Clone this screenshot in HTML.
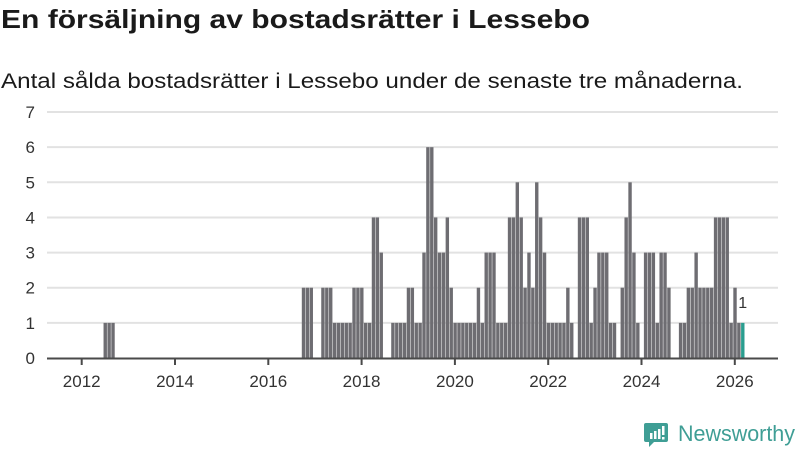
<!DOCTYPE html>
<html><head><meta charset="utf-8">
<style>
html,body{margin:0;padding:0;background:#fff;}
body{width:800px;height:450px;overflow:hidden;font-family:"Liberation Sans",sans-serif;color:#1a1a1a;}
svg text{font-family:"Liberation Sans",sans-serif;}
</style></head>
<body>
<svg id="chart" width="800" height="450">
  <text x="1" y="28" font-size="26" font-weight="bold" fill="#1a1a1a" textLength="589" lengthAdjust="spacingAndGlyphs">En försäljning av bostadsrätter i Lessebo</text>
  <text x="1" y="88" font-size="21" fill="#1a1a1a" textLength="742" lengthAdjust="spacingAndGlyphs">Antal sålda bostadsrätter i Lessebo under de senaste tre månaderna.</text>
  <g id="grid"></g>
  <g id="bars"></g>
  <g id="axes"></g>
  <g>
    <path d="M646 423 h20 a2 2 0 0 1 2 2 v15 a2 2 0 0 1 -2 2 h-12 l-5 5 v-5 h-3 a2 2 0 0 1 -2 -2 v-15 a2 2 0 0 1 2 -2z" fill="#3f9e95"/>
    <rect x="650" y="433" width="2.5" height="6" fill="#fff"/>
    <rect x="654" y="431" width="2.5" height="8" fill="#fff"/>
    <rect x="658" y="429" width="2.5" height="10" fill="#fff"/>
    <rect x="662" y="426" width="2.5" height="9" fill="#fff"/>
    <rect x="662" y="437" width="2.5" height="2.5" fill="#fff"/>
    <text x="678" y="441" font-size="22" fill="#3f9e95" textLength="117" lengthAdjust="spacingAndGlyphs">Newsworthy</text>
  </g>
</svg>
<script>
// Monthly sold count, starting January 2012
const startYear = 2012;
const values = [
  0,0,0,0,0,1,1,1,0,0,0,0,   // 2012
  0,0,0,0,0,0,0,0,0,0,0,0,   // 2013
  0,0,0,0,0,0,0,0,0,0,0,0,   // 2014
  0,0,0,0,0,0,0,0,0,0,0,0,   // 2015
  0,0,0,0,0,0,0,0,2,2,2,0,   // 2016
  0,2,2,2,1,1,1,1,1,2,2,2,   // 2017
  1,1,4,4,3,0,0,1,1,1,1,2,   // 2018
  2,1,1,3,6,6,4,3,3,4,2,1,   // 2019
  1,1,1,1,1,2,1,3,3,3,1,1,   // 2020
  1,4,4,5,4,2,3,2,5,4,3,1,   // 2021
  1,1,1,1,2,1,0,4,4,4,1,2,   // 2022
  3,3,3,1,1,0,2,4,5,3,1,0,   // 2023
  3,3,3,1,3,3,2,0,0,1,1,2,   // 2024
  2,3,2,2,2,2,4,4,4,4,1,2,   // 2025
  1,1                        // 2026
];
const yTicks = [0,1,2,3,4,5,6,7];
const xTickYears = [2012,2014,2016,2018,2020,2022,2024,2026];
const lastLabel = "1";

const NS = "http://www.w3.org/2000/svg";
const x0 = 81.7, pxPerMonth = 3.8875;
function xScale(monthIndex){ return x0 + monthIndex * pxPerMonth; }
function yScale(v){ return 358 - v * 35.14; }
function mk(tag, attrs, parent){
  const el = document.createElementNS(NS, tag);
  for (const k in attrs) el.setAttribute(k, attrs[k]);
  parent.appendChild(el);
  return el;
}
const grid = document.getElementById('grid');
const bars = document.getElementById('bars');
const axes = document.getElementById('axes');

yTicks.forEach(t => {
  if (t > 0) {
    const l = mk('line', {x1:47, x2:778, y1:yScale(t), y2:yScale(t), stroke:'#e2e2e2', 'stroke-width':2}, grid);
    
    
  }
  const tx = mk('text', {x:35, y:yScale(t)+6, 'text-anchor':'end', 'font-size':17, fill:'#333'}, axes);
  tx.textContent = t;
  
  
});

values.forEach((v, i) => {
  if (v <= 0) return;
  const last = i === values.length - 1;
  const r = mk('rect', {x:xScale(i)+2.4, y:yScale(v), width:3.4, height:yScale(0)-yScale(v), fill: last ? '#2a9d8f' : '#6e6d72'}, bars);
  
  
});

const li = values.length - 1;
const lab = mk('text', {x:xScale(li)+4, y:yScale(values[li])-15, 'text-anchor':'middle', 'font-size':16, fill:'#333'}, bars);
lab.textContent = lastLabel;



const ax = mk('line', {x1:47, x2:778, y1:358.5, y2:358.5, stroke:'#4a4a4a', 'stroke-width':2}, axes);



xTickYears.forEach(yr => {
  const x = xScale((yr - startYear) * 12);
  const tk = mk('line', {x1:x, x2:x, y1:359, y2:365, stroke:'#4a4a4a', 'stroke-width':2}, axes);
  
  
  const tx = mk('text', {x:x, y:387, 'text-anchor':'middle', 'font-size':17, fill:'#333'}, axes);
  tx.textContent = yr;
  
  
});
</script>
</body></html>
